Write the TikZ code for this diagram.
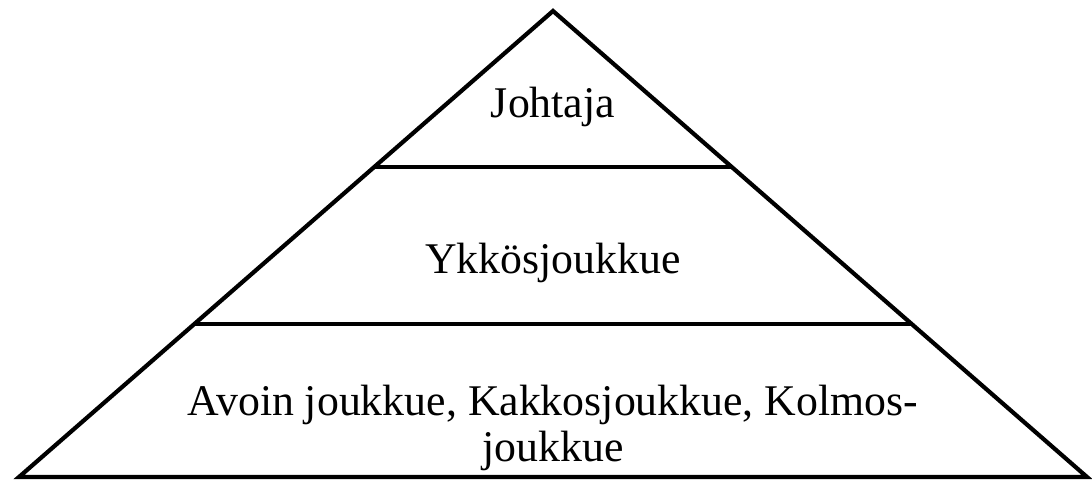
\documentclass[tikz,border=0pt]{standalone}
\usepackage{fontspec}
\setmainfont{Liberation Serif}

\begin{document}
\begin{tikzpicture}[x=1pt,y=-1pt,
    edge line/.style={line width=4.2pt,line join=miter},
    level line/.style={line width=3.6pt},
    level text/.style={font=\fontsize{43.8}{46}\selectfont,anchor=base,align=center}]

\useasboundingbox (0,0) rectangle (1092,480);

\coordinate (top) at (553,11);
\coordinate (left) at (19,477);
\coordinate (right) at (1087,477);
\coordinate (l1) at (375,167);
\coordinate (r1) at (731,167);
\coordinate (l2) at (195,324);
\coordinate (r2) at (911,324);

\draw[edge line] (left) -- (top) -- (right) -- cycle;
\draw[level line] (l1) -- (r1);
\draw[level line] (l2) -- (r2);

\node[level text] (leader) at (553,117) {Johtaja};
\node[level text] (first) at (553,273) {Ykkösjoukkue};
\node[level text] (rest) at (553,461) {Avoin joukkue, Kakkosjoukkue, Kolmos-\\joukkue};

\end{tikzpicture}
\end{document}
